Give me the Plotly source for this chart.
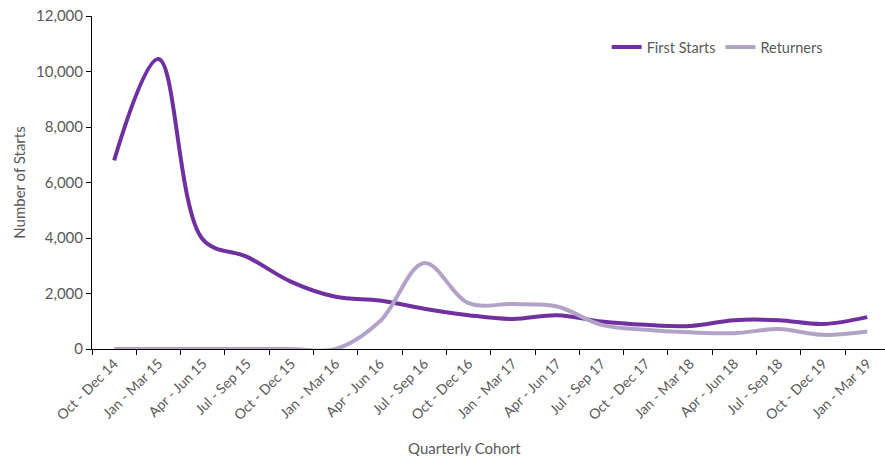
import plotly.graph_objects as go

categories = ["Oct - Dec 14", "Jan - Mar 15", "Apr - Jun 15", "Jul - Sep 15", "Oct - Dec 15",
              "Jan - Mar 16", "Apr - Jun 16", "Jul - Sep 16", "Oct - Dec 16", "Jan - Mar 17",
              "Apr - Jun 17", "Jul - Sep 17", "Oct - Dec 17", "Jan - Mar 18", "Apr - Jun 18",
              "Jul - Sep 18", "Oct - Dec 19", "Jan - Mar 19"]
first_starts = [6800, 10450, 3950, 3320, 2420, 1880, 1750, 1450, 1220, 1080,
                1220, 990, 870, 830, 1040, 1040, 900, 1150]
returners = [0, 0, 0, 0, 0, 0, 1000, 3100, 1650, 1620,
             1530, 870, 690, 600, 570, 720, 510, 630]

GREY = "#595959"
FONT = "Lato"

fig = go.Figure()
fig.add_trace(go.Scatter(x=categories, y=first_starts, name="First Starts", mode="lines",
                         line=dict(color="#7030A0", width=4, shape="spline", smoothing=1.0)))
fig.add_trace(go.Scatter(x=categories, y=returners, name="Returners", mode="lines",
                         line=dict(color="#B3A2C7", width=4, shape="spline", smoothing=1.0)))

fig.update_layout(
    width=885, height=456,
    margin=dict(l=92, r=0, t=16, b=107),
    paper_bgcolor="white", plot_bgcolor="white",
    font=dict(family=FONT, size=14, color=GREY),
    showlegend=True,
    legend=dict(orientation="h", x=0.649, y=0.907, xanchor="left", yanchor="middle",
                font=dict(family=FONT, size=14.5, color=GREY), itemwidth=30,
                bgcolor="rgba(0,0,0,0)", tracegroupgap=0),
    xaxis=dict(type="category", range=[-0.5, 17.4], showgrid=False, showline=True,
               linecolor="#000000", linewidth=1, ticks="outside", tickson="boundaries",
               ticklen=5, tickcolor="#000000", tickangle=-45,
               tickfont=dict(family=FONT, size=14, color=GREY)),
    yaxis=dict(range=[0, 12000], dtick=2000, tickformat=",", showgrid=False, showline=True,
               linecolor="#000000", linewidth=1, ticks="outside", ticklen=5,
               tickcolor="#000000", zeroline=False,
               tickfont=dict(family=FONT, size=15, color=GREY)),
    annotations=[
        dict(text="Quarterly Cohort", xref="paper", yref="paper", x=0.47, y=-0.297,
             xanchor="center", yanchor="middle", showarrow=False,
             font=dict(family=FONT, size=15, color=GREY)),
        dict(text="Number of Starts", xref="paper", yref="paper", x=-0.093, y=0.5,
             xanchor="center", yanchor="middle", showarrow=False, textangle=-90,
             font=dict(family=FONT, size=15, color=GREY)),
    ],
)

fig.write_html("out.html")
